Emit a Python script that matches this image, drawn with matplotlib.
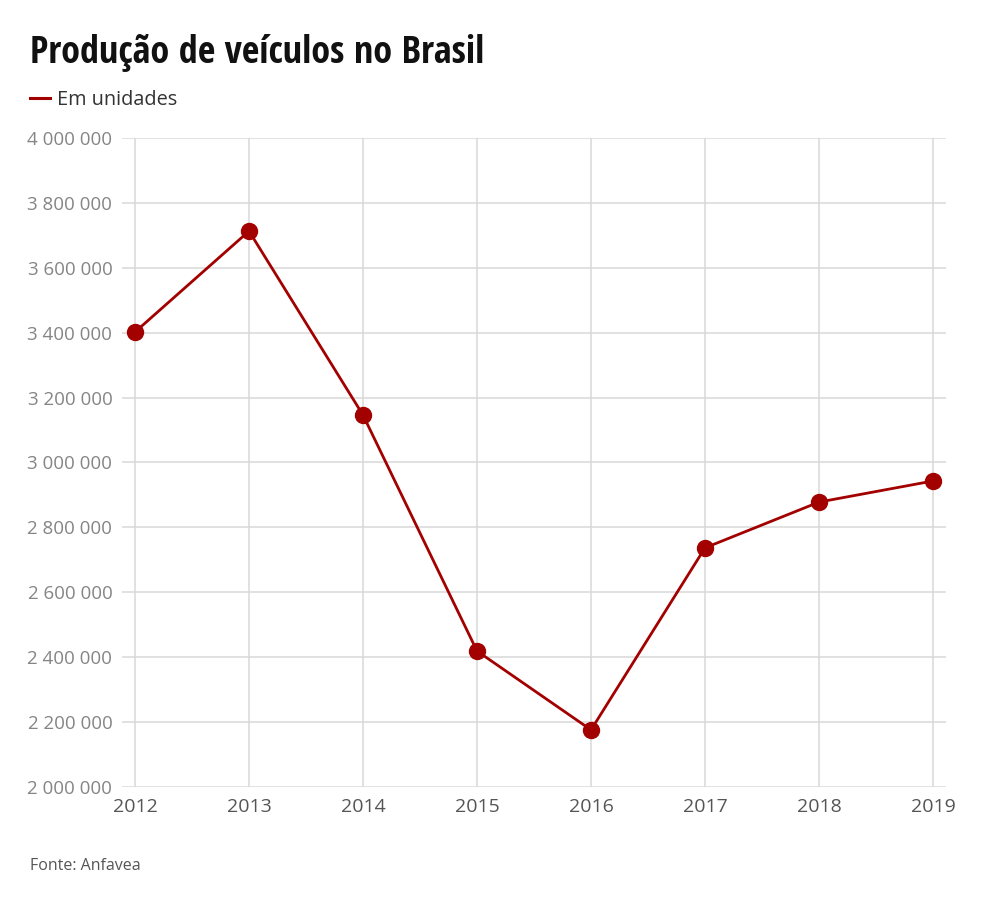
import matplotlib
matplotlib.use("Agg")
import matplotlib.pyplot as plt
from matplotlib.ticker import FuncFormatter

plt.rcParams['font.family'] = ['Open Sans', 'DejaVu Sans']

# Produção anual de veículos (unidades)
years = [2012, 2013, 2014, 2015, 2016, 2017, 2018, 2019]
production = [3402000, 3713000, 3146000, 2419000, 2176000, 2737000, 2878000, 2943000]
y_ticks = [2000000, 2200000, 2400000, 2600000, 2800000, 3000000,
           3200000, 3400000, 3600000, 3800000, 4000000]

RED = "#a30000"
GRID = "#d9d9d9"

fig = plt.figure(figsize=(9.84, 9.13), dpi=100)
ax = fig.add_axes([0.124, 0.138, 0.8374, 0.7109])

ax.plot(years, production, color=RED, lw=2.0, marker="o", ms=11.5,
        markerfacecolor=RED, markeredgecolor=RED, zorder=3)

ax.set_xlim(2011.886, 2019.114)
ax.set_ylim(2000000, 4000000)
ax.set_xticks(years)
ax.set_yticks(y_ticks)
ax.yaxis.set_major_formatter(FuncFormatter(lambda v, p: f"{int(v):,}".replace(",", " ")))

# horizontal grid across the full width, vertical grid only at the years
for y in y_ticks:
    ax.axhline(y, color=GRID, lw=1.1, zorder=1)
for x in years:
    ax.axvline(x, color=GRID, lw=1.1, zorder=1)

for s in ax.spines.values():
    s.set_visible(False)
ax.tick_params(axis="both", length=0)
ax.tick_params(axis="y", pad=7, labelsize=13.5, labelcolor="#858585")
ax.tick_params(axis="x", pad=8, labelsize=14, labelcolor="#555555")

fig.text(0.030, 0.942, "Produção de veículos no Brasil", fontsize=27.5, fontweight="bold",
         family=["Open Sans Condensed", "Open Sans", "DejaVu Sans"],
         color="#111111", ha="left", va="center")
fig.add_artist(plt.Line2D([0.030, 0.051], [0.8925, 0.8925], color=RED, lw=2.2))
fig.text(0.058, 0.890, "Em unidades", fontsize=14.3, color="#333333", ha="left", va="center")
fig.text(0.030, 0.051, "Fonte: Anfavea", fontsize=11.5, color="#555555", ha="left", va="center")

fig.savefig("out.png", dpi=100)
